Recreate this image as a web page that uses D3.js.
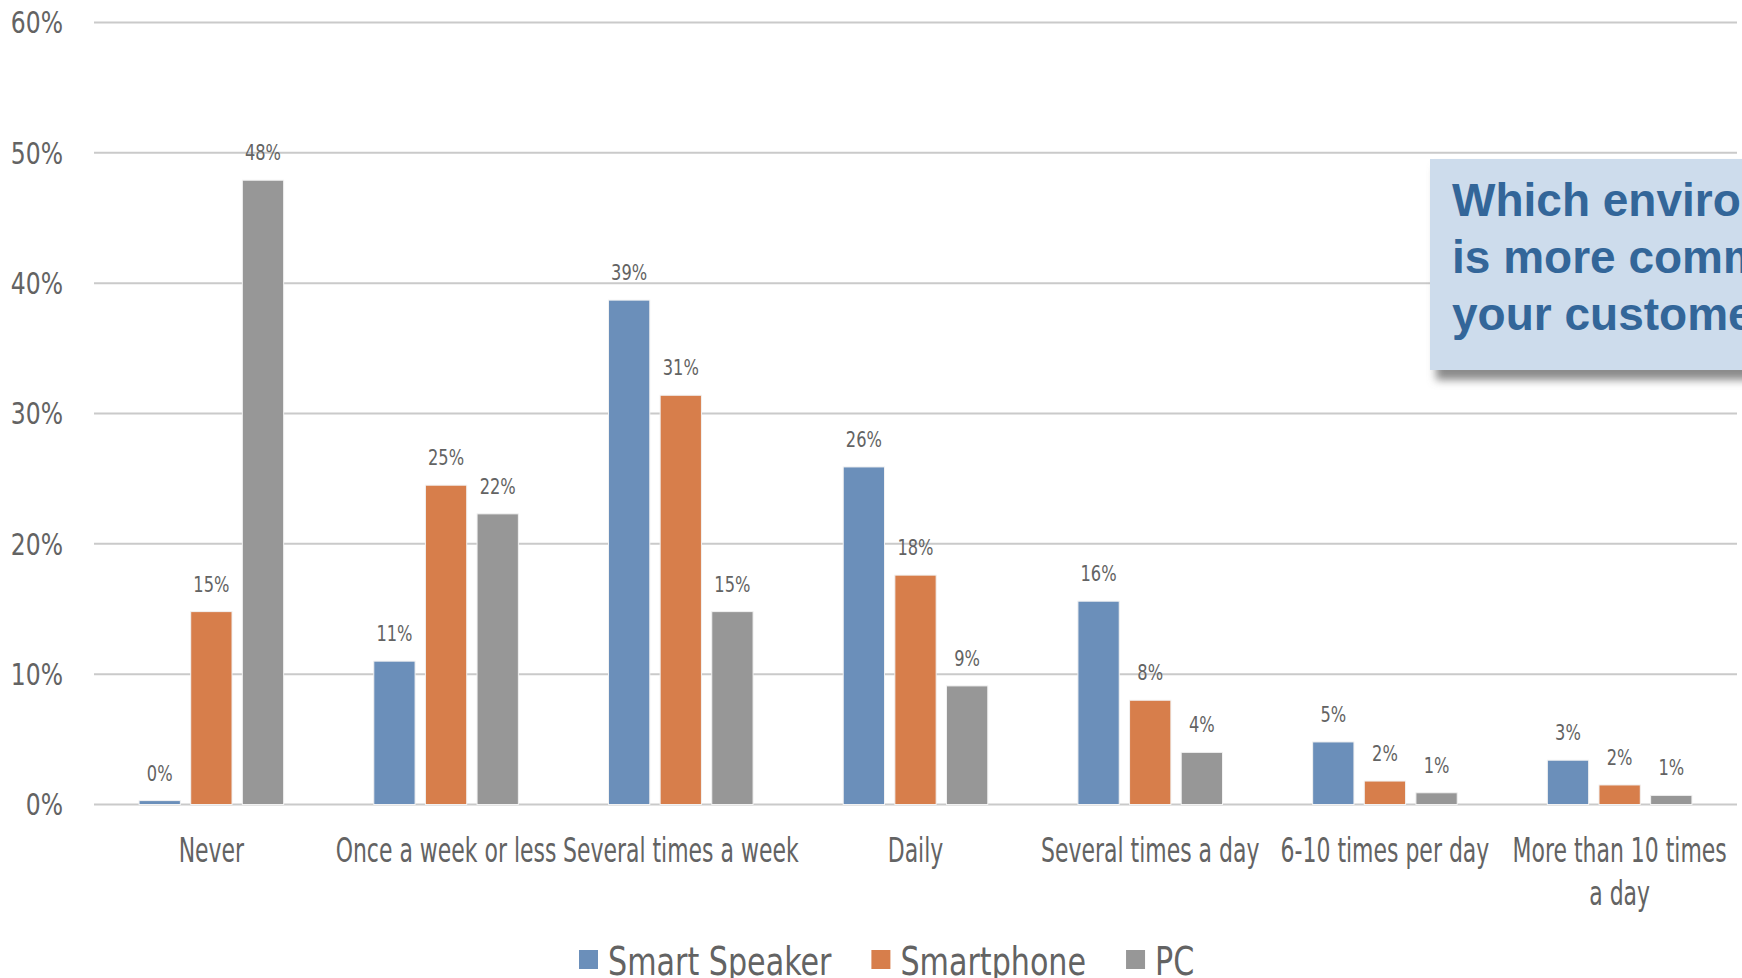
<!DOCTYPE html>
<html>
<head>
<meta charset="utf-8">
<script src="https://cdn.jsdelivr.net/npm/d3@7"></script>
<style>
  html, body { margin: 0; padding: 0; background: #fff; overflow: hidden; }
  .narrow { font-family: "DejaVu Sans Condensed", "Liberation Sans Narrow", sans-serif; font-stretch: condensed; }
</style>
</head>
<body>
<div id="chart"></div>
<script>
// chart data
var categories = ["Never", "Once a week or less", "Several times a week", "Daily",
                  "Several times a day", "6-10 times per day", "More than 10 times a day"];
var series = ["Smart Speaker", "Smartphone", "PC"];
var smartSpeaker = [0.3, 11.0, 38.7, 25.9, 15.6, 4.8, 3.4];
var smartphone   = [14.8, 24.5, 31.4, 17.6, 8.0, 1.8, 1.5];
var pc           = [47.9, 22.3, 14.8, 9.1, 4.0, 0.9, 0.7];
var yTicks = [0, 10, 20, 30, 40, 50, 60];
var titleLines = ["Which environment", "is more common for", "your customers?"];

var colors = {"Smart Speaker": "#6b8fba", "Smartphone": "#d77e4b", "PC": "#979797"};
var values = {"Smart Speaker": smartSpeaker, "Smartphone": smartphone, "PC": pc};

var W = 1742, H = 978;
var plotL = 94, plotR = 1737, plotT = 22.5, plotB = 804.5;

var svg = d3.select("#chart")
  .append("svg")
    .attr("width", W)
    .attr("height", H);

var x0 = d3.scaleBand()
    .domain(categories)
    .range([plotL, plotR])
    .paddingInner(0.34)
    .paddingOuter(0.17);

var x1 = d3.scaleBand()
    .domain(series)
    .range([0, x0.bandwidth()])
    .paddingInner(0.2)
    .paddingOuter(0.1);

var y = d3.scaleLinear()
    .domain([0, 60])
    .range([plotB, plotT]);

// squeezed text, the original uses a condensed face
function tr(x, yy, sx) {
  return "translate(" + x + "," + yy + ") scale(" + sx + ",1)";
}

// gridlines
svg.append("g")
  .selectAll("line")
  .data(yTicks)
  .enter()
  .append("line")
    .attr("x1", plotL)
    .attr("x2", plotR)
    .attr("y1", d => y(d))
    .attr("y2", d => y(d))
    .attr("stroke", "#cacaca")
    .attr("stroke-width", 2);

// y tick labels
svg.append("g")
  .selectAll("text")
  .data(yTicks)
  .enter()
  .append("text")
    .attr("class", "narrow")
    .attr("transform", d => tr(63, y(d), 0.87))
    .attr("dy", "0.36em")
    .attr("text-anchor", "end")
    .attr("font-size", 30)
    .attr("fill", "#636363")
    .text(d => d + "%");

// bars
var rows = [];
categories.forEach((c, i) => {
  series.forEach(s => rows.push({cat: c, s: s, v: values[s][i]}));
});

svg.append("g")
  .selectAll("rect")
  .data(rows)
  .enter()
  .append("rect")
    .attr("x", d => x0(d.cat) + x1(d.s))
    .attr("y", d => y(d.v))
    .attr("width", x1.bandwidth())
    .attr("height", d => y(0) - y(d.v))
    .attr("fill", d => colors[d.s])
    .attr("stroke", "#f2f2f2")
    .attr("stroke-width", 1);

// value labels
svg.append("g")
  .selectAll("text")
  .data(rows)
  .enter()
  .append("text")
    .attr("class", "narrow")
    .attr("transform", d => tr(x0(d.cat) + x1(d.s) + x1.bandwidth() / 2, y(d.v) - 20, 0.86))
    .attr("text-anchor", "middle")
    .attr("font-size", 21)
    .attr("fill", "#636363")
    .text(d => Math.round(d.v) + "%");

// category labels (wrapped where they do not fit)
var catG = svg.append("g");
categories.forEach(c => {
  var lines = c === "More than 10 times a day" ? ["More than 10 times", "a day"] : [c];
  var cx = x0(c) + x0.bandwidth() / 2;
  lines.forEach((ln, j) => {
    catG.append("text")
      .attr("class", "narrow")
      .attr("transform", tr(cx, 862 + j * 43, 0.74))
      .attr("text-anchor", "middle")
      .attr("font-size", 33)
      .attr("fill", "#636363")
      .text(ln);
  });
});

// legend
var legend = svg.append("g");
var lx = 579;
series.forEach(s => {
  legend.append("rect")
    .attr("x", lx)
    .attr("y", 950)
    .attr("width", 19)
    .attr("height", 19)
    .attr("fill", colors[s]);
  var t = legend.append("text")
    .attr("class", "narrow")
    .attr("transform", tr(lx + 29, 975, 0.86))
    .attr("font-size", 39)
    .attr("fill", "#636363")
    .text(s);
  lx += 29 + t.node().getComputedTextLength() * 0.86 + 40;
});

// title callout box
var defs = svg.append("defs");
defs.append("filter")
    .attr("id", "blur")
    .attr("x", "-10%").attr("y", "-10%")
    .attr("width", "120%").attr("height", "130%")
  .append("feGaussianBlur")
    .attr("stdDeviation", 4);

svg.append("rect")
    .attr("x", 1436)
    .attr("y", 168)
    .attr("width", 400)
    .attr("height", 212)
    .attr("fill", "#8a8a8a")
    .attr("filter", "url(#blur)");

svg.append("rect")
    .attr("x", 1430)
    .attr("y", 159)
    .attr("width", 400)
    .attr("height", 211)
    .attr("fill", "#cddcec");

svg.append("g")
  .selectAll("text")
  .data(titleLines)
  .enter()
  .append("text")
    .attr("x", 1452)
    .attr("y", (d, i) => 216 + i * 57)
    .attr("font-family", "Liberation Sans, Arial, sans-serif")
    .attr("font-weight", "bold")
    .attr("font-size", 46)
    .attr("fill", "#336699")
    .text(d => d);
</script>
</body>
</html>
